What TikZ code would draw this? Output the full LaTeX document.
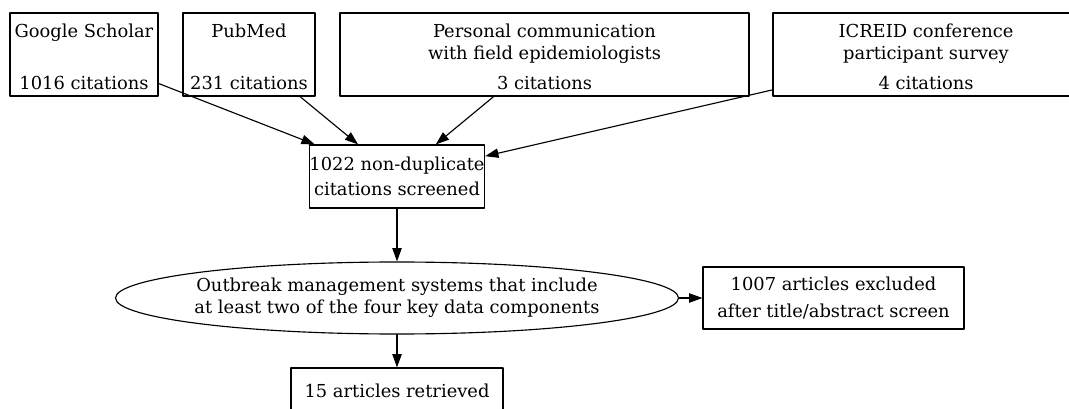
\documentclass[tikz,border=0pt]{standalone}
\usepackage{fontspec}
\setmainfont{DejaVu Serif}
\usetikzlibrary{arrows.meta}
\usetikzlibrary{shapes.geometric}
\tikzset{>={Triangle[length=10pt,width=7pt]}}
\tikzset{srcbox/.style={draw, rectangle, align=center, inner sep=1pt, minimum height=62.25pt}}
\tikzset{stepbox/.style={draw, rectangle, align=center, inner sep=1pt}}

\begin{document}
\begin{tikzpicture}[x=0.75pt, y=-0.75pt, line width=0.85pt, line cap=round, line join=round,
  font=\fontsize{13.4}{16.5}\selectfont]

\useasboundingbox (0,0) rectangle (1069,409);
\clip (0,0) rectangle (1069,409);

% sources
\node[srcbox, minimum width=111pt] (gs) at (84,54.5) {\rule{0pt}{13pt}Google Scholar\\[22.5pt]1016 citations};
\node[srcbox, minimum width=99pt] (pm) at (249,54.5) {\rule{0pt}{13pt}PubMed\\[22.5pt]231 citations};
\node[srcbox, minimum width=306.75pt] (pc) at (544.5,54.5) {\rule{0pt}{13pt}Personal communication\\with field epidemiologists\\[6pt]3 citations};
\node[srcbox, minimum width=229.5pt] (ic) at (926,54.5) {\rule{0pt}{13pt}ICREID conference\\participant survey\\[6pt]4 citations};

% screening
\node[stepbox, inner xsep=0pt, minimum width=130.5pt, minimum height=47.25pt] (dedup) at (397,176.5) {1022 non-duplicate\\[2.25pt]citations screened};
\node[draw, ellipse, inner xsep=-3pt, inner ysep=0pt, minimum width=422.25pt, minimum height=54pt, align=center] (mgmt) at (397,298) {Outbreak management systems that include\\at least two of the four key data components};
\node[stepbox, minimum width=195.75pt, minimum height=46.5pt] (excl) at (833.5,298) {1007 articles excluded\\[3.75pt]after title/abstract screen};
\node[stepbox, minimum width=159pt, minimum height=34.5pt] (ret) at (397,391) {15 articles retrieved};

\draw[->] (gs) -- (dedup);
\draw[->] (pm) -- (dedup);
\draw[->] (pc) -- (dedup);
\draw[->] (ic) -- (dedup);
\draw[->] (dedup) -- (mgmt);
\draw[->] (mgmt) -- (excl);
\draw[->] (mgmt) -- (ret);

\end{tikzpicture}
\end{document}
